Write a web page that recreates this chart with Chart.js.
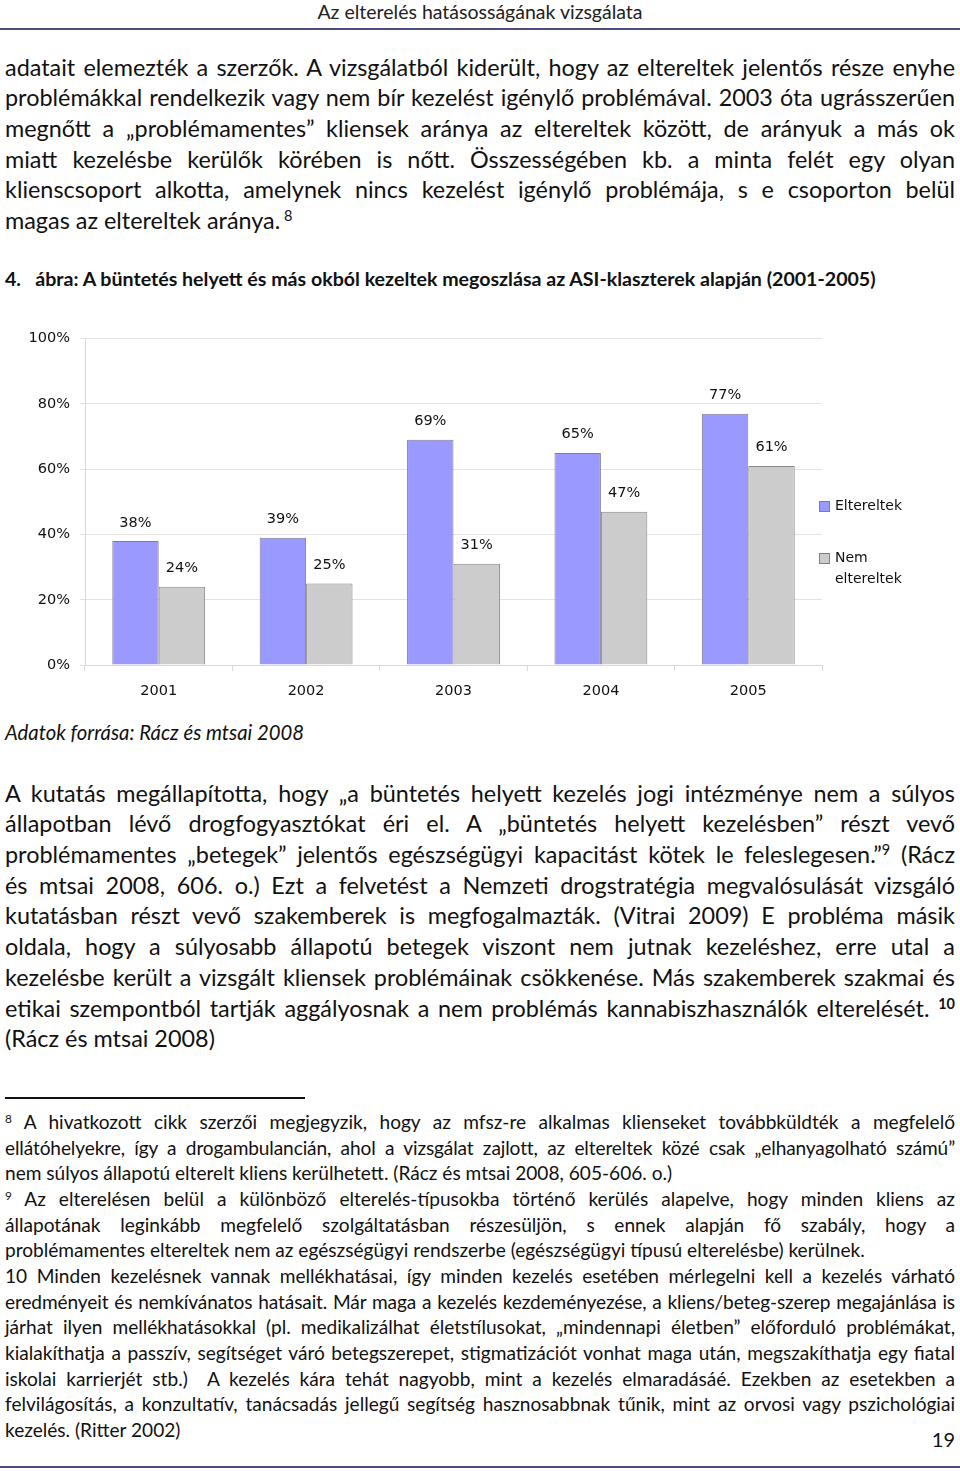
<!DOCTYPE html>
<html lang="hu">
<head>
<meta charset="utf-8">
<script src="https://cdn.jsdelivr.net/npm/chart.js@4/dist/chart.umd.min.js"></script>
<style>
  html, body { margin: 0; padding: 0; background: #fff; }
  body { width: 960px; height: 1471px; position: relative; overflow: hidden;
         font-family: Lato, "Noto Sans", sans-serif; color: #111; }
  .abs { position: absolute; }
  .hdr { left: 0; width: 960px; top: 0px; text-align: center; font-size: 19.5px; color: #222; }
  .rule { left: 0; width: 960px; height: 2px; background: #4b4b7c; }
  .para { left: 5px; width: 950px; font-size: 23.4px; }
  .para div { white-space: nowrap; text-align: justify; text-align-last: justify; }
  .para div.last { text-align-last: left; }
  .p1 div, .p2 div { height: 30.7px; line-height: 30.7px; }
  .fn { left: 5px; width: 950px; font-size: 19.1px; }
  .fn div { height: 25.67px; line-height: 25.67px; white-space: nowrap; text-align: justify; text-align-last: justify; }
  .fn div.last { text-align-last: left; }
  .fn div.tight { letter-spacing: -0.12px; }
  sup { font-size: 62%; line-height: 0; vertical-align: 0.55em; }
  .cap { left: 5px; top: 267px; font-size: 19.6px; font-weight: bold; white-space: nowrap; }
  .src { left: 5px; top: 720px; font-size: 20.3px; font-style: italic; }
  #chartBox { left: 0; top: 320px; width: 960px; height: 385px; }
  .leg { font-family: "DejaVu Sans", Verdana, sans-serif; font-size: 14px; color: #111; line-height: 21px; }
  .sw { position: absolute; width: 9px; height: 9px; border: 1px solid #808080; }
</style>
</head>
<body>
<div class="abs hdr">Az elterelés hatásosságának vizsgálata</div>
<div class="abs rule" style="top:28px"></div>

<div class="abs para p1" style="top:51.6px">
  <div>adatait elemezték a szerzők. A vizsgálatból kiderült, hogy az eltereltek jelentős része enyhe</div>
  <div>problémákkal rendelkezik vagy nem bír kezelést igénylő problémával. 2003 óta ugrásszerűen</div>
  <div>megnőtt a „problémamentes” kliensek aránya az eltereltek között, de arányuk a más ok</div>
  <div>miatt kezelésbe kerülők körében is nőtt. Összességében kb. a minta felét egy olyan</div>
  <div>klienscsoport alkotta, amelynek nincs kezelést igénylő problémája, s e csoporton belül</div>
  <div class="last">magas az eltereltek aránya.<sup> 8</sup></div>
</div>

<div class="abs cap">4.&nbsp;&nbsp; ábra: A büntetés helyett és más okból kezeltek megoszlása az ASI-klaszterek alapján (2001-2005)</div>

<div class="abs" id="chartBox"><canvas id="chart"></canvas></div>
<div class="abs leg" id="legend" style="left:819px; top:495px; width:130px;"></div>

<div class="abs src">Adatok forrása: Rácz és mtsai 2008</div>

<div class="abs para p2" style="top:777.7px">
  <div>A kutatás megállapította, hogy „a büntetés helyett kezelés jogi intézménye nem a súlyos</div>
  <div>állapotban lévő drogfogyasztókat éri el. A „büntetés helyett kezelésben” részt vevő</div>
  <div>problémamentes „betegek” jelentős egészségügyi kapacitást kötek le feleslegesen.”<sup>9</sup> (Rácz</div>
  <div>és mtsai 2008, 606. o.) Ezt a felvetést a Nemzeti drogstratégia megvalósulását vizsgáló</div>
  <div>kutatásban részt vevő szakemberek is megfogalmazták. (Vitrai 2009) E probléma másik</div>
  <div>oldala, hogy a súlyosabb állapotú betegek viszont nem jutnak kezeléshez, erre utal a</div>
  <div>kezelésbe került a vizsgált kliensek problémáinak csökkenése. Más szakemberek szakmai és</div>
  <div>etikai szempontból tartják aggályosnak a nem problémás kannabiszhasználók elterelését. <sup><b>10</b></sup></div>
  <div class="last">(Rácz és mtsai 2008)</div>
</div>

<div class="abs" style="left:5px; top:1097px; width:300px; height:1.5px; background:#111"></div>

<div class="abs fn" style="top:1109px">
  <div><sup>8</sup> A hivatkozott cikk szerzői megjegyzik, hogy az mfsz-re alkalmas klienseket továbbküldték a megfelelő</div>
  <div class="tight">ellátóhelyekre, így a drogambulancián, ahol a vizsgálat zajlott, az eltereltek közé csak „elhanyagolható számú”</div>
  <div class="last">nem súlyos állapotú elterelt kliens kerülhetett. (Rácz és mtsai 2008, 605-606. o.)</div>
  <div><sup>9</sup> Az elterelésen belül a különböző elterelés-típusokba történő kerülés alapelve, hogy minden kliens az</div>
  <div>állapotának leginkább megfelelő szolgáltatásban részesüljön, s ennek alapján fő szabály, hogy a</div>
  <div class="last">problémamentes eltereltek nem az egészségügyi rendszerbe (egészségügyi típusú elterelésbe) kerülnek.</div>
  <div>10 Minden kezelésnek vannak mellékhatásai, így minden kezelés esetében mérlegelni kell a kezelés várható</div>
  <div class="tight">eredményeit és nemkívánatos hatásait. Már maga a kezelés kezdeményezése, a kliens/beteg-szerep megajánlása is</div>
  <div>járhat ilyen mellékhatásokkal (pl. medikalizálhat életstílusokat, „mindennapi életben” előforduló problémákat,</div>
  <div>kialakíthatja a passzív, segítséget váró betegszerepet, stigmatizációt vonhat maga után, megszakíthatja egy fiatal</div>
  <div>iskolai karrierjét stb.)&nbsp; A kezelés kára tehát nagyobb, mint a kezelés elmaradásáé. Ezekben az esetekben a</div>
  <div>felvilágosítás, a konzultatív, tanácsadás jellegű segítség hasznosabbnak tűnik, mint az orvosi vagy pszichológiai</div>
  <div class="last">kezelés. (Ritter 2002)</div>
</div>

<div class="abs" style="right:5px; top:1427px; font-size:20px;">19</div>
<div class="abs rule" style="top:1466px"></div>

<script>
// adatok
const years = ['2001', '2002', '2003', '2004', '2005'];
const eltereltek = [38, 39, 69, 65, 77];
const nemEltereltek = [24, 25, 31, 47, 61];
const seriesNames = ['Eltereltek', 'Nem eltereltek'];
const seriesColors = ['#9999ff', '#cccccc'];
const yTicks = [0, 20, 40, 60, 80, 100];

const chartFont = { family: '"DejaVu Sans", Verdana, sans-serif', size: 14.5 };

// értékcímkék a hasábok fölé
const valueLabels = {
  id: 'valueLabels',
  afterDatasetsDraw(chart) {
    const ctx = chart.ctx;
    ctx.save();
    ctx.font = chartFont.size + 'px ' + chartFont.family;
    ctx.fillStyle = '#111';
    ctx.textAlign = 'center';
    ctx.textBaseline = 'bottom';
    chart.data.datasets.forEach((ds, i) => {
      chart.getDatasetMeta(i).data.forEach((bar, j) => {
        ctx.fillText(ds.data[j] + '%', bar.x, bar.y - 11);
      });
    });
    ctx.restore();
  }
};

const chart = new Chart(document.getElementById('chart'), {
  type: 'bar',
  data: {
    labels: years,
    datasets: [
      {
        label: seriesNames[0],
        data: eltereltek,
        backgroundColor: seriesColors[0],
        borderColor: '#7f7f99',
        borderWidth: 1
      },
      {
        label: seriesNames[1],
        data: nemEltereltek,
        backgroundColor: seriesColors[1],
        borderColor: '#888888',
        borderWidth: 1
      }
    ]
  },
  options: {
    responsive: true,
    maintainAspectRatio: false,
    animation: false,
    layout: { padding: { top: 16, right: 138, bottom: 0, left: 0 } },
    datasets: { bar: { categoryPercentage: 0.63, barPercentage: 1.0 } },
    plugins: {
      legend: { display: false },
      tooltip: { enabled: false }
    },
    scales: {
      x: {
        grid: { display: true, drawOnChartArea: false, offset: true, color: '#d9d9d9', tickLength: 6 },
        border: { color: '#d9d9d9' },
        ticks: { color: '#111', font: chartFont, padding: 12 },
        afterFit: scale => { scale.height = 40; }
      },
      y: {
        min: 0,
        max: 100,
        afterBuildTicks: scale => { scale.ticks = yTicks.map(v => ({ value: v })); },
        grid: { color: '#e3e3e3', tickLength: 5 },
        border: { color: '#d9d9d9' },
        ticks: { color: '#111', font: chartFont, padding: 10, callback: v => v + '%' },
        afterFit: scale => { scale.width = 85; }
      }
    }
  },
  plugins: [valueLabels]
});

// jelmagyarázat
const legend = document.getElementById('legend');
const legendRows = [['Eltereltek'], ['Nem', 'eltereltek']];
legendRows.forEach((lines, i) => {
  const row = document.createElement('div');
  row.style.position = 'relative';
  row.style.paddingLeft = '16px';
  row.style.marginBottom = i === 0 ? '31px' : '0';
  const sw = document.createElement('span');
  sw.className = 'sw';
  sw.style.left = '0px';
  sw.style.top = '6px';
  sw.style.background = seriesColors[i];
  row.appendChild(sw);
  row.appendChild(document.createTextNode(lines[0]));
  for (let k = 1; k < lines.length; k++) {
    row.appendChild(document.createElement('br'));
    row.appendChild(document.createTextNode(lines[k]));
  }
  legend.appendChild(row);
});
</script>
</body>
</html>
